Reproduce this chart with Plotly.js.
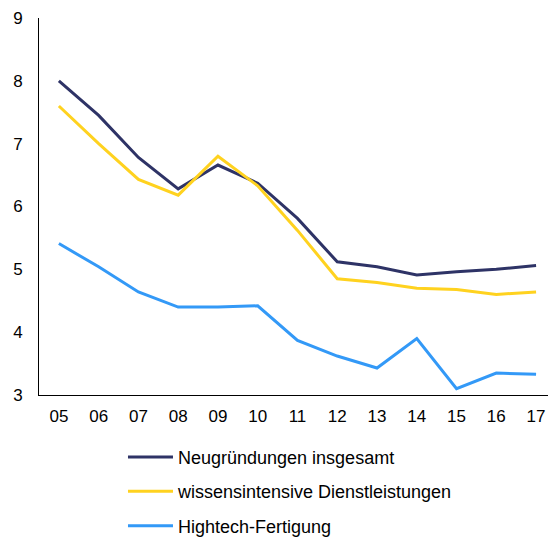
<!DOCTYPE html>
<html><head><meta charset="utf-8">
<script src="https://cdn.plot.ly/plotly-3.0.1.min.js"></script>
<style>html,body{margin:0;padding:0;background:#fff}#c{width:548px;height:537px}</style>
</head><body><div id="c"></div>
<script>
const years = ["05","06","07","08","09","10","11","12","13","14","15","16","17"];
const neugruendungen = [8.00,7.45,6.78,6.28,6.66,6.37,5.81,5.12,5.04,4.91,4.96,5.00,5.06];
const wissensintensiv = [7.60,7.00,6.43,6.18,6.80,6.33,5.62,4.85,4.79,4.70,4.68,4.60,4.64];
const hightech = [5.41,5.04,4.64,4.40,4.40,4.42,3.87,3.62,3.43,3.90,3.10,3.35,3.33];
const names = ["Neugründungen insgesamt","wissensintensive Dienstleistungen","Hightech-Fertigung"];
const colors = ["#2e3366","#ffd21f","#3399f7"];
const series = [neugruendungen, wissensintensiv, hightech];
const traces = series.map((s,i)=>({x:years,y:s,type:"scatter",mode:"lines",name:names[i],legendgroup:"g"+i,
  line:{color:colors[i],width:3}}));
const layout = {
  width:548,height:537,
  margin:{l:39,r:0,t:18,b:142,autoexpand:false},
  paper_bgcolor:"#fff",plot_bgcolor:"#fff",
  font:{family:"Liberation Sans, Arial, sans-serif",size:17,color:"#000"},
  xaxis:{type:"category",range:[-0.5,12.3],showgrid:false,zeroline:false,showline:true,linecolor:"#000",linewidth:1,ticks:"",ticklabelstandoff:6,tickfont:{size:17}},
  yaxis:{range:[3,9],dtick:1,showgrid:false,zeroline:false,showline:true,linecolor:"#000",linewidth:1,ticks:"",ticklabelstandoff:12,tickfont:{size:17}},
  showlegend:true,
  legend:{x:0.165,xanchor:"left",yref:"container",y:0.183,yanchor:"top",orientation:"v",tracegroupgap:8,itemwidth:45,font:{size:18},bgcolor:"rgba(0,0,0,0)"}
};
Plotly.newPlot("c",traces,layout,{displayModeBar:false,staticPlot:true});
</script></body></html>
